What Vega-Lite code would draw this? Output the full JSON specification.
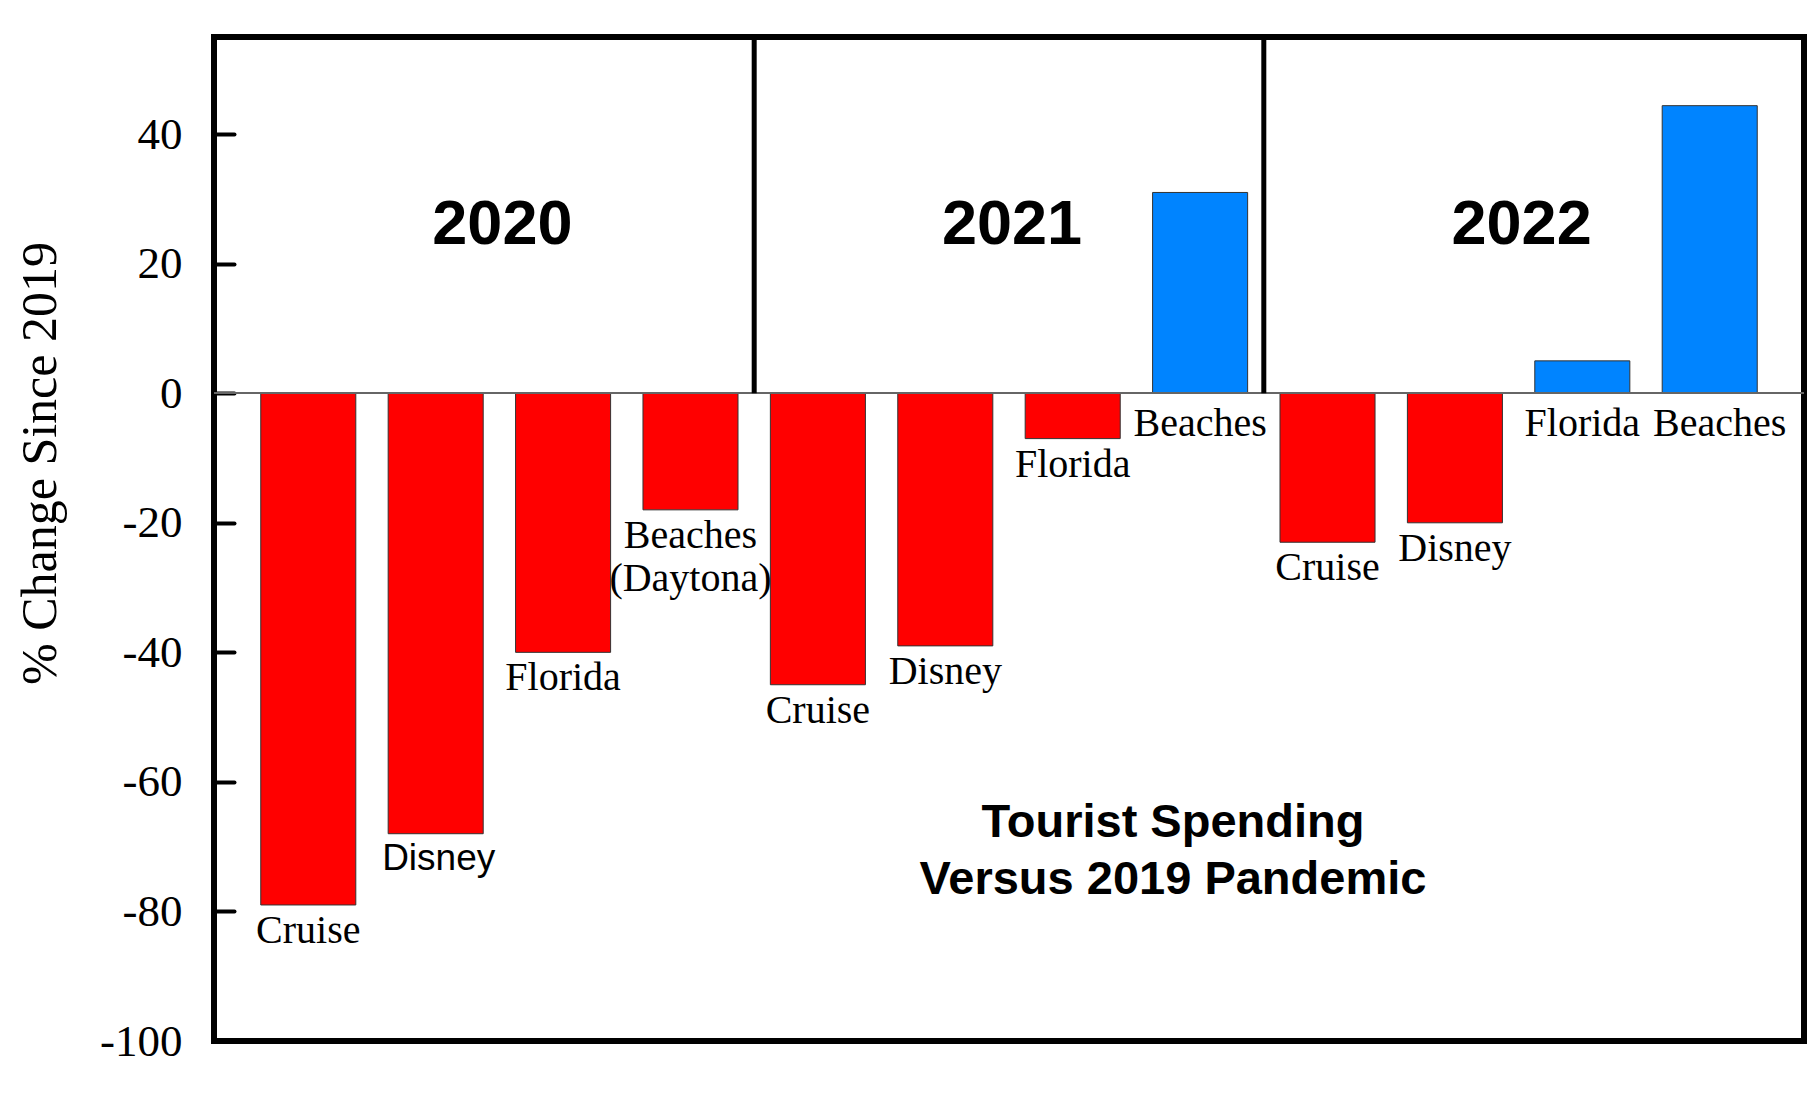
{
  "$schema": "https://vega.github.io/schema/vega-lite/v6.json",
  "width": 1590,
  "height": 1004,
  "autosize": {"type": "none"},
  "padding": {"left": 214, "top": 37, "right": 12, "bottom": 63},
  "background": "white",
  "config": {"view": {"stroke": "black", "strokeWidth": 6}, "font": "Liberation Serif"},
  "data": {"values": [
    {"id": "2020 Cruise", "year": "2020", "item": "Cruise", "value": -79, "label": "Cruise"},
    {"id": "2020 Disney", "year": "2020", "item": "Disney", "value": -68, "label": "Disney"},
    {"id": "2020 Florida", "year": "2020", "item": "Florida", "value": -40, "label": "Florida"},
    {"id": "2020 Beaches", "year": "2020", "item": "Beaches", "value": -18, "label": "Beaches\n(Daytona)"},
    {"id": "2021 Cruise", "year": "2021", "item": "Cruise", "value": -45, "label": "Cruise"},
    {"id": "2021 Disney", "year": "2021", "item": "Disney", "value": -39, "label": "Disney"},
    {"id": "2021 Florida", "year": "2021", "item": "Florida", "value": -7, "label": "Florida"},
    {"id": "2021 Beaches", "year": "2021", "item": "Beaches", "value": 31, "label": "Beaches"},
    {"id": "2022 Cruise", "year": "2022", "item": "Cruise", "value": -23, "label": "Cruise"},
    {"id": "2022 Disney", "year": "2022", "item": "Disney", "value": -20, "label": "Disney"},
    {"id": "2022 Florida", "year": "2022", "item": "Florida", "value": 5, "label": "Florida"},
    {"id": "2022 Beaches", "year": "2022", "item": "Beaches", "value": 44.4, "label": "Beaches"}
  ]},
  "layer": [
    {
      "mark": {"type": "bar", "stroke": "#333333", "strokeWidth": 1, "width": {"band": 0.746}},
      "encoding": {
        "x": {"field": "id", "type": "nominal", "sort": null, "axis": null, "scale": {"paddingInner": 0, "paddingOuter": 0.24}},
        "y": {"field": "value", "type": "quantitative",
          "scale": {"domain": [-100, 55], "nice": false, "zero": false},
          "axis": {
            "values": [-100, -80, -60, -40, -20, 0, 20, 40],
            "labelExpr": "'' + datum.value",
            "grid": false, "domain": false,
            "ticks": true, "tickSize": -20, "tickWidth": 4, "tickColor": "black", "tickCap": "round",
            "labelFont": "Liberation Serif", "labelFontSize": 45, "labelColor": "black", "labelPadding": 52,
            "title": "% Change Since 2019",
            "titleFont": "Liberation Serif", "titleFontSize": 50, "titleFontWeight": "normal", "titleColor": "black",
            "titleAngle": -90, "titleAlign": "center", "titleBaseline": "middle",
            "titleX": -174, "titleY": 426
          }
        },
        "color": {"condition": {"test": "datum.value > 0", "value": "#0084FF"}, "value": "#FF0000"}
      }
    },
    {
      "mark": {"type": "rule", "color": "#666666", "strokeWidth": 1.5},
      "encoding": {"y": {"datum": 0, "type": "quantitative"}}
    },
    {
      "transform": [{"filter": "datum.item == 'Cruise' && datum.year != '2020'"}],
      "mark": {"type": "rule", "color": "black", "strokeWidth": 5},
      "encoding": {
        "x": {"field": "id", "type": "nominal", "sort": null, "bandPosition": 0},
        "y": {"datum": 0, "type": "quantitative"},
        "y2": {"datum": 55}
      }
    },
    {
      "transform": [{"filter": "datum.item == 'Florida'"}],
      "mark": {"type": "text", "font": "Liberation Sans", "fontWeight": "bold", "fontSize": 63, "baseline": "middle", "align": "center", "color": "black", "dx": 3},
      "encoding": {
        "x": {"field": "id", "type": "nominal", "sort": null, "bandPosition": 0},
        "y": {"datum": 26, "type": "quantitative"},
        "text": {"field": "year"}
      }
    },
    {
      "transform": [{"filter": "datum.value < 0 && datum.id != '2020 Disney'"}],
      "mark": {"type": "text", "font": "Liberation Serif", "fontSize": 40, "baseline": "top", "align": "center", "dy": 6, "lineBreak": "\n", "lineHeight": 43, "color": "black"},
      "encoding": {
        "x": {"field": "id", "type": "nominal", "sort": null},
        "y": {"field": "value", "type": "quantitative"},
        "text": {"field": "label"}
      }
    },
    {
      "transform": [{"filter": "datum.id == '2020 Disney'"}],
      "mark": {"type": "text", "font": "Liberation Sans", "fontSize": 37, "baseline": "top", "align": "center", "dy": 7, "dx": 3, "color": "black"},
      "encoding": {
        "x": {"field": "id", "type": "nominal", "sort": null},
        "y": {"field": "value", "type": "quantitative"},
        "text": {"field": "label"}
      }
    },
    {
      "transform": [{"filter": "datum.value > 0 && datum.id != '2022 Beaches'"}],
      "mark": {"type": "text", "font": "Liberation Serif", "fontSize": 40, "baseline": "top", "align": "center", "dy": 11, "color": "black"},
      "encoding": {
        "x": {"field": "id", "type": "nominal", "sort": null},
        "y": {"datum": 0, "type": "quantitative"},
        "text": {"field": "label"}
      }
    },
    {
      "transform": [{"filter": "datum.id == '2022 Beaches'"}],
      "mark": {"type": "text", "font": "Liberation Serif", "fontSize": 40, "baseline": "top", "align": "center", "dy": 11, "dx": 10, "color": "black"},
      "encoding": {
        "x": {"field": "id", "type": "nominal", "sort": null},
        "y": {"datum": 0, "type": "quantitative"},
        "text": {"field": "label"}
      }
    },
    {
      "data": {"values": [{"note": "Tourist Spending\nVersus 2019 Pandemic"}]},
      "mark": {"type": "text", "font": "Liberation Sans", "fontWeight": "bold", "fontSize": 47, "lineBreak": "\n", "lineHeight": 57, "align": "center", "baseline": "middle", "color": "black"},
      "encoding": {
        "x": {"datum": "2021 Beaches", "type": "nominal", "bandPosition": 0.287},
        "y": {"datum": -66.4, "type": "quantitative"},
        "text": {"field": "note"}
      }
    }
  ]
}
